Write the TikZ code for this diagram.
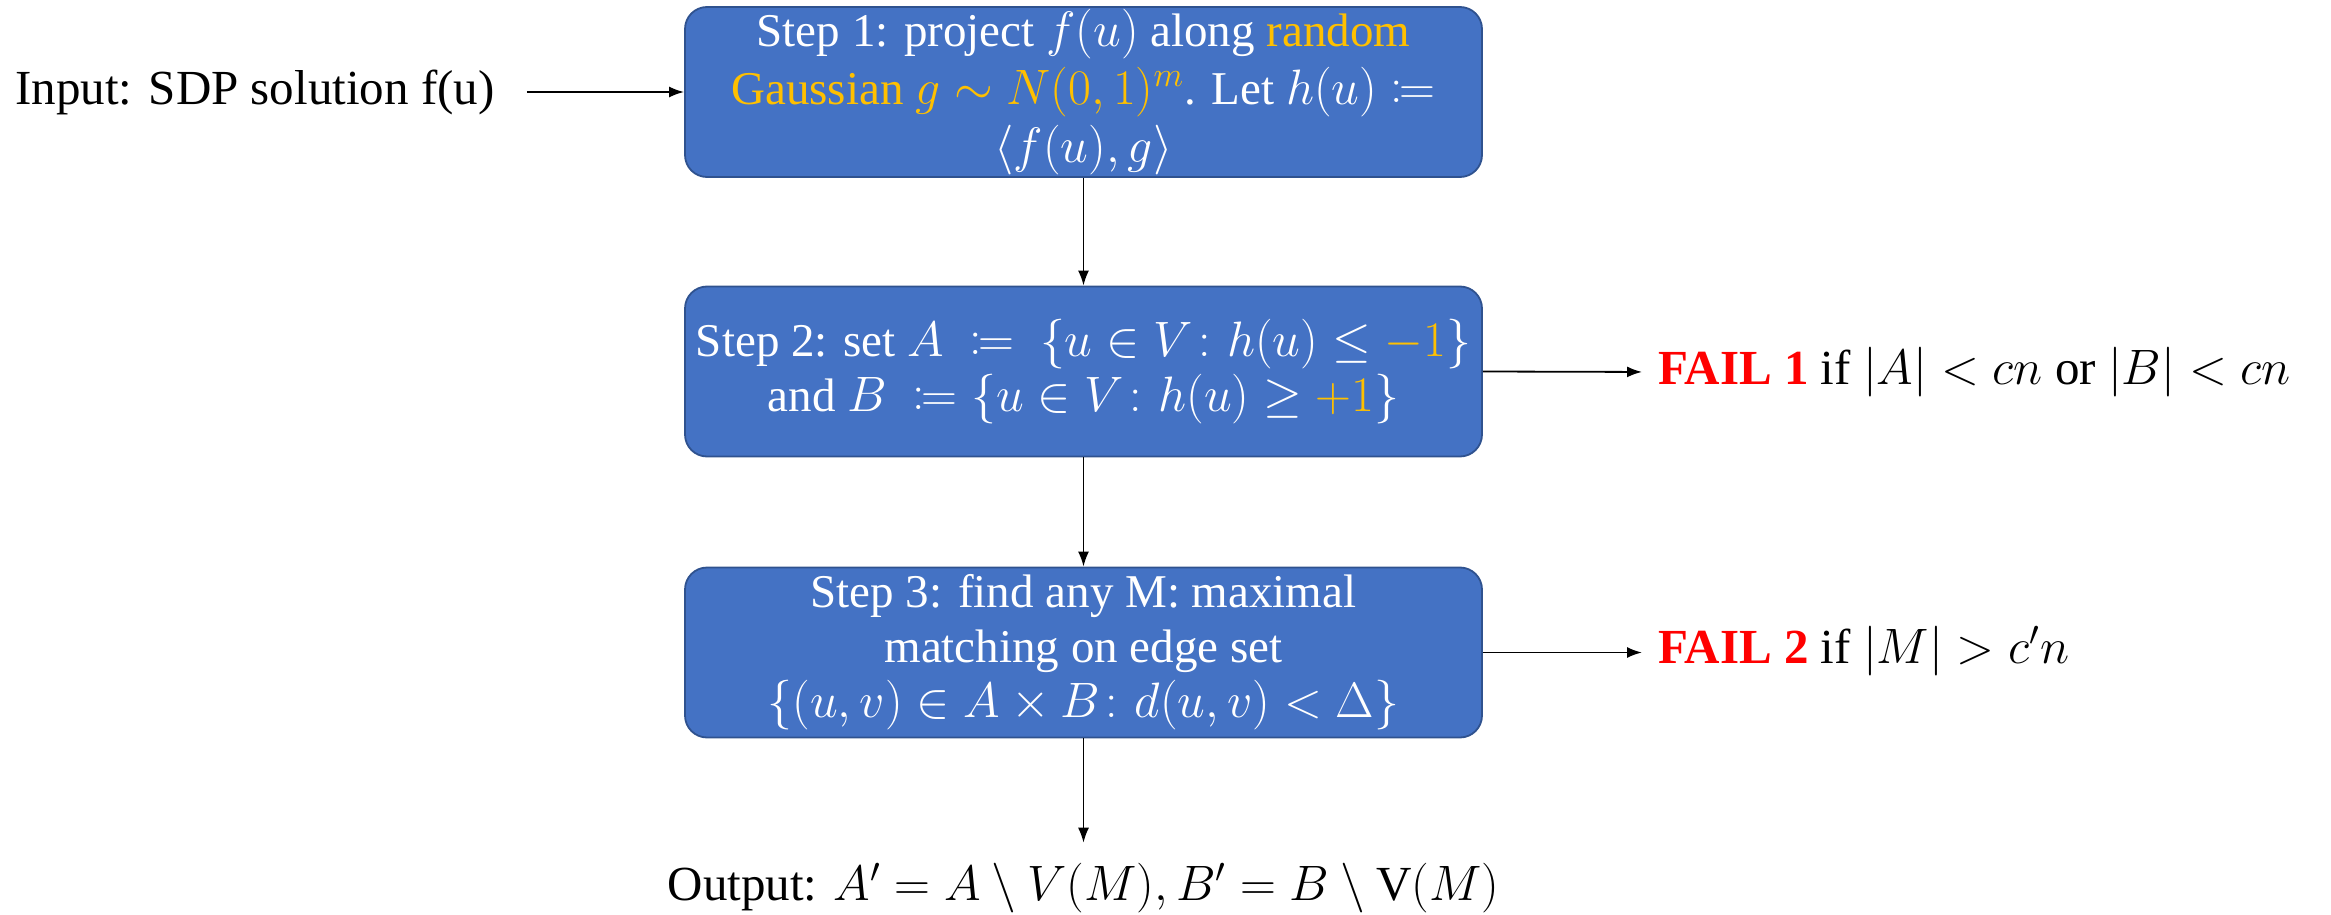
\documentclass[tikz,border=0pt]{standalone}
\usepackage{fontspec}
\usepackage{mathtools}
\setmainfont{Liberation Serif}
\usetikzlibrary{arrows.meta}
\definecolor{boxblue}{HTML}{4472C4}
\definecolor{boxedge}{HTML}{2F528F}
\definecolor{gold}{HTML}{FFC000}
\definecolor{failred}{HTML}{FF0000}
\begin{document}
\begin{tikzpicture}[x=0.5pt,y=-0.5pt,
  stepbox/.style={draw=boxedge,line width=0.9pt,fill=boxblue,rounded corners=11pt,
    minimum width=398.5pt,minimum height=85pt,text=white,align=center,inner sep=1pt,
    font=\fontsize{23.5}{27.5}\selectfont},
  plain/.style={inner sep=0pt,font=\fontsize{24.5}{27.5}\selectfont},
  arr/.style={-{Latex[length=7.5pt,width=5.5pt]},line width=0.9pt}]
\useasboundingbox (0,0) rectangle (2331,915);
\node[stepbox,font=\fontsize{23.5}{28.8}\selectfont] (b1) at (1083.5,92) {Step 1: project $f(u)$ along \textcolor{gold}{random}\\
\textcolor{gold}{Gaussian $g\sim N(0,1)^m$}. Let $h(u)\coloneqq$\\
$\langle f(u),g\rangle$};
\node[stepbox] (b2) at (1083.5,371.5) {Step 2: set $A\ \coloneqq\ \{u\in V\colon h(u)\le \textcolor{gold}{-1}\}$\\
and $B\ \coloneqq \{u\in V\colon h(u)\ge \textcolor{gold}{+1}\}$};
\node[stepbox] (b3) at (1083.5,652.5) {Step 3: find any M: maximal\\
matching on edge set\\
$\{(u,v)\in A\times B\colon d(u,v)<\Delta\}$};
\node[plain,anchor=west] (in) at (15,92) {Input: SDP solution f(u)};
\node[plain,anchor=west] (f1) at (1658,372) {\textcolor{failred}{\textbf{FAIL 1}} if $|A|<cn$ or $|B|<cn$};
\node[plain,anchor=west] (f2) at (1658,651) {\textcolor{failred}{\textbf{FAIL 2}} if $|M|>c'n$};
\node[plain] (out) at (1083.5,888) {Output: $A'=A\setminus V(M), B'=B\setminus \mathrm{V}(M)$};
\draw[arr] ([xshift=16pt]in.east) -- (b1.west);
\draw[arr] (b1.south) -- (b2.north);
\draw[arr] (b2.south) -- (b3.north);
\draw[arr,shorten >=8pt] (b2.east) -- (f1.west);
\draw[arr,shorten >=8pt] (b3.east) -- (f2.west |- b3.east);
\draw[arr,shorten >=10pt] (b3.south) -- (out.north);
\end{tikzpicture}
\end{document}
